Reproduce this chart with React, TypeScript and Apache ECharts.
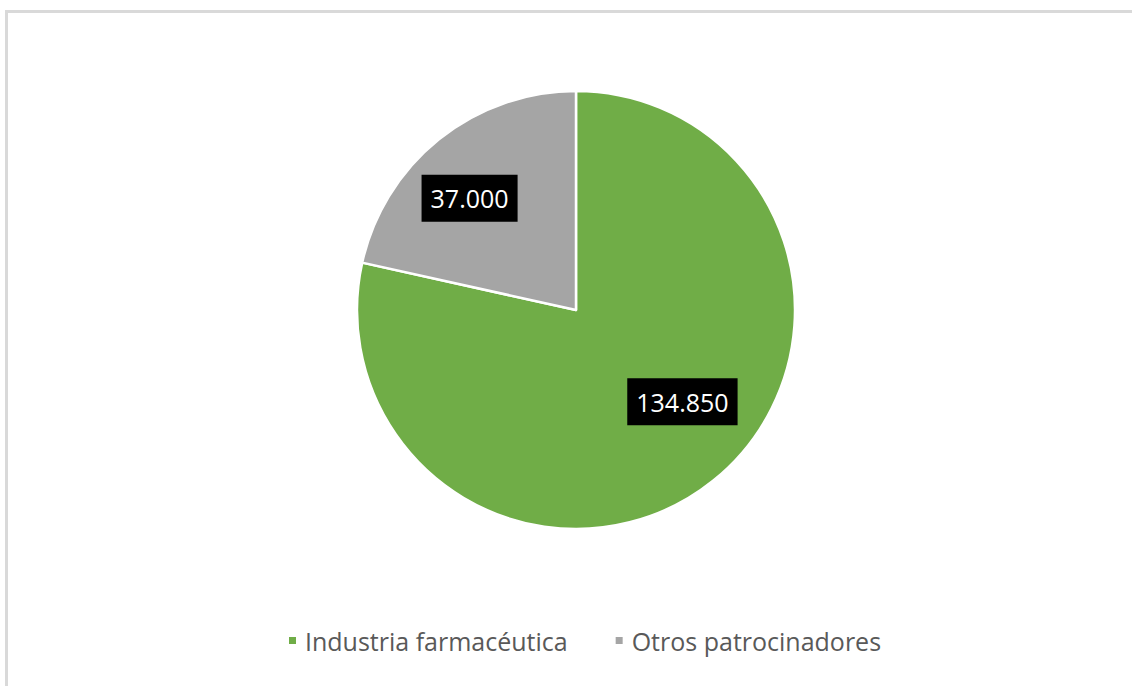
import React, { useEffect, useRef } from "react";
import * as echarts from "echarts";

const categories = ["Industria farmacéutica", "Otros patrocinadores"];
const values = [134850, 37000];
const valueLabels = ["134.850", "37.000"];
const colors = ["#70ad47", "#a5a5a5"];
const labelOffsets: [number, number][] = [
  [36, 4],
  [-36, -24],
];

export default function App() {
  const ref = useRef<HTMLDivElement>(null);
  useEffect(() => {
    if (!ref.current) return;
    const chart = echarts.init(ref.current, null, { renderer: "svg" });
    chart.setOption({
      animation: false,
      backgroundColor: "#ffffff",
      graphic: [
        {
          type: "rect",
          shape: { x: 6.5, y: 11.5, width: 1200, height: 800 },
          style: { fill: "none", stroke: "#d9d9d9", lineWidth: 3 },
          silent: true,
        },
      ],
      legend: {
        bottom: 28,
        left: 282,
        itemWidth: 9,
        itemHeight: 9,
        itemGap: 46,
        icon: "rect",
        textStyle: {
          fontFamily: "Open Sans",
          fontSize: 25,
          color: "#595959",
          padding: [0, 0, 0, 3],
        },
        data: categories,
      },
      series: [
        {
          type: "pie",
          center: [576, 310],
          radius: [0, 219],
          startAngle: 90,
          clockwise: true,
          itemStyle: { borderColor: "#ffffff", borderWidth: 2.5 },
          emphasis: { disabled: true },
          label: {
            show: true,
            position: "inside",
            fontFamily: "Open Sans",
            fontSize: 25,
            color: "#ffffff",
            backgroundColor: "#000000",
            padding: [9, 9, 8, 9],
            lineHeight: 30,
          },
          labelLine: { show: false },
          data: categories.map((name, i) => ({
            name,
            value: values[i],
            itemStyle: { color: colors[i] },
            label: { formatter: valueLabels[i], offset: labelOffsets[i] },
          })),
        },
      ],
    });
    return () => chart.dispose();
  }, []);
  return (
    <div
      ref={ref}
      style={{ position: "fixed", left: 0, top: 0, width: 1132, height: 686 }}
    />
  );
}
